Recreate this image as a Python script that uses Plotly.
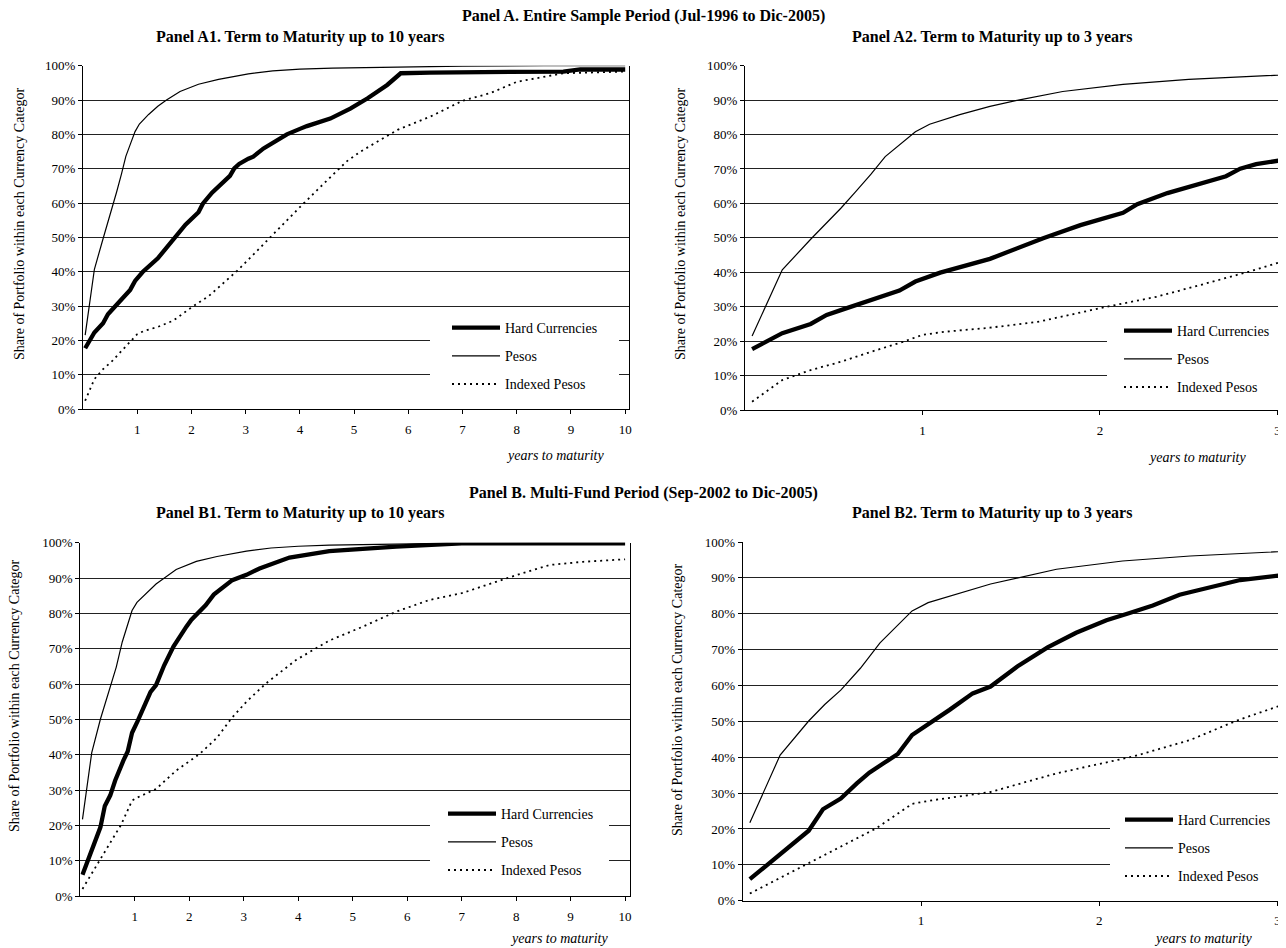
import plotly.graph_objects as go

# The page body has an 8px default margin, so the figure is sized to fit the window.
OFF = 8
W, H = 1286 - OFF, 948 - OFF
FONT = "Liberation Serif, Times New Roman, serif"

# ---------------- data (years to maturity, cumulative share %) ----------------
# Panel A: Entire sample period
A_hc_x = [0.04, 0.21, 0.37, 0.46, 0.54, 0.71, 0.87, 0.96, 1.1, 1.38, 1.68, 1.89, 2.13, 2.21,
          2.38, 2.71, 2.79, 2.88, 3.05, 3.14, 3.33, 3.57, 3.76, 4.0, 4.13, 4.56, 4.93, 5.25,
          5.61, 5.86, 6.4, 8.86, 9.17, 10.0]
A_hc_y = [17.7, 22.3, 25.0, 27.6, 29.0, 32.1, 34.7, 37.3, 39.9, 43.9, 49.9, 53.7, 57.3, 59.8,
          63.0, 67.9, 70.1, 71.4, 72.9, 73.5, 75.9, 78.3, 80.0, 81.6, 82.4, 84.6, 87.5, 90.5,
          94.4, 97.8, 98.0, 98.3, 98.9, 98.9]

A_pes_x = [0.04, 0.21, 0.37, 0.46, 0.54, 0.62, 0.71, 0.79, 0.87, 0.96, 1.04, 1.21, 1.38, 1.54,
           1.79, 2.13, 2.5, 3.05, 3.5, 4.0, 4.6, 5.5, 7.0, 8.5, 10.0]
A_pes_y = [21.5, 40.7, 49.6, 54.4, 58.6, 63.2, 68.5, 73.6, 77.0, 80.8, 83.0, 85.8, 88.2, 90.0,
           92.5, 94.6, 96.0, 97.6, 98.5, 99.0, 99.3, 99.6, 99.9, 100.0, 100.0]

A_idx_x = [0.04, 0.21, 0.37, 0.54, 0.71, 0.89, 1.0, 1.12, 1.38, 1.66, 2.02, 2.32, 2.6, 2.84,
           3.05, 3.5, 4.0, 4.56, 4.87, 5.12, 5.8, 6.41, 7.0, 7.51, 8.0, 8.86, 10.0]
A_idx_y = [2.4, 8.7, 11.6, 14.0, 16.9, 19.8, 21.8, 22.7, 23.9, 25.7, 29.8, 32.9, 36.8, 40.2,
           43.5, 50.8, 58.8, 67.5, 72.2, 75.0, 81.3, 85.2, 89.8, 92.0, 95.3, 97.8, 98.3]

# Panel B: Multi-fund period
B_hc_x = [0.04, 0.37, 0.45, 0.55, 0.64, 0.71, 0.79, 0.87, 0.95, 1.05, 1.16, 1.29, 1.39, 1.54,
          1.71, 1.87, 1.95, 2.04, 2.17, 2.3, 2.45, 2.62, 2.79, 3.05, 3.29, 3.84, 4.57, 5.8,
          7.0, 10.0]
B_hc_y = [6.0, 19.5, 25.5, 28.5, 32.7, 35.7, 38.3, 40.9, 46.2, 49.4, 53.2, 57.8, 59.7, 65.3,
          70.6, 74.7, 76.3, 78.2, 80.2, 82.3, 85.3, 87.4, 89.4, 90.9, 92.7, 95.8, 97.6, 98.9,
          99.8, 99.8]

B_pes_x = [0.04, 0.21, 0.37, 0.46, 0.55, 0.66, 0.77, 0.86, 0.95, 1.04, 1.39, 1.76, 2.13, 2.51,
           3.05, 3.5, 4.0, 4.57, 5.5, 7.0, 8.5, 10.0]
B_pes_y = [21.7, 40.6, 50.1, 54.7, 58.7, 64.8, 71.9, 76.4, 80.8, 83.1, 88.3, 92.4, 94.7, 96.1,
           97.6, 98.5, 99.0, 99.3, 99.6, 99.9, 100.0, 100.0]

B_idx_x = [0.04, 0.37, 0.55, 0.75, 0.95, 1.05, 1.39, 1.76, 2.19, 2.51, 2.77, 3.05, 3.41, 3.96,
           4.57, 5.18, 5.8, 6.41, 7.0, 7.63, 8.0, 8.62, 9.23, 10.0]
B_idx_y = [2.0, 10.4, 15.2, 20.2, 27.0, 27.9, 30.3, 35.5, 40.2, 44.8, 50.2, 55.0, 60.2, 66.8,
           72.3, 76.2, 80.5, 83.8, 85.7, 89.0, 90.8, 93.7, 94.6, 95.3]

SERIES_NAMES = ["Hard Currencies", "Pesos", "Indexed Pesos"]
Y_TICKS = [0, 10, 20, 30, 40, 50, 60, 70, 80, 90, 100]
Y_TICK_TEXT = ["0%", "10%", "20%", "30%", "40%", "50%", "60%", "70%", "80%", "90%", "100%"]
X_TICKS_10 = [1, 2, 3, 4, 5, 6, 7, 8, 9, 10]
X_TICKS_3 = [1, 2, 3]

TITLE_A = "Panel A. Entire Sample Period (Jul-1996 to Dic-2005)"
TITLE_B = "Panel B. Multi-Fund Period (Sep-2002 to Dic-2005)"
TITLE_A1 = "Panel A1. Term to Maturity up to 10 years"
TITLE_A2 = "Panel A2. Term to Maturity up to 3 years"
TITLE_B1 = "Panel B1. Term to Maturity up to 10 years"
TITLE_B2 = "Panel B2. Term to Maturity up to 3 years"
Y_TITLE = "Share of Portfolio within each Currency Categor"
X_TITLE = "years to maturity"


# ---------------- layout geometry (window pixels -> paper) ----------------
def px_x(p):
    return (p - OFF) / W


def px_y(p):
    return 1 - (p - OFF) / H


panels = [
    dict(ax="", xd=(83, 629), yd=(65.7, 409), xr=10.07, ticks=X_TICKS_10, leg="legend",
         data=(A_hc_x, A_hc_y, A_pes_x, A_pes_y, A_idx_x, A_idx_y),
         box=(430, 619, 313, 397), legpos=(447, 312),
         title=TITLE_A1, tpos=(300, 37), ytpos=(19, 224), xtpos=(555, 455)),
    dict(ax="2", xd=(745, 1286), yd=(65.7, 410), xr=3.048, ticks=X_TICKS_3, leg="legend2",
         data=(A_hc_x, A_hc_y, A_pes_x, A_pes_y, A_idx_x, A_idx_y),
         box=(1107, 1284, 315, 398), legpos=(1119, 315),
         title=TITLE_A2, tpos=(992, 37), ytpos=(680, 224), xtpos=(1197, 457)),
    dict(ax="3", xd=(80.3, 630), yd=(542.7, 896), xr=10.09, ticks=X_TICKS_10, leg="legend3",
         data=(B_hc_x, B_hc_y, B_pes_x, B_pes_y, B_idx_x, B_idx_y),
         box=(430, 609, 798, 882), legpos=(443, 798),
         title=TITLE_B1, tpos=(300, 513), ytpos=(14, 696), xtpos=(559, 938)),
    dict(ax="4", xd=(742.7, 1286), yd=(542, 900.7), xr=3.047, ticks=X_TICKS_3, leg="legend4",
         data=(B_hc_x, B_hc_y, B_pes_x, B_pes_y, B_idx_x, B_idx_y),
         box=(1110, 1283, 804, 887), legpos=(1120, 804),
         title=TITLE_B2, tpos=(992, 513), ytpos=(677, 700), xtpos=(1203, 938)),
]

fig = go.Figure()
layout = dict(
    width=W, height=H, margin=dict(l=0, r=0, t=0, b=0, autoexpand=False),
    paper_bgcolor="white", plot_bgcolor="white", showlegend=True,
    font=dict(family=FONT, color="black", size=13),
)
annotations = [
    dict(text="<b>%s</b>" % TITLE_A, x=px_x(643), y=px_y(16)),
    dict(text="<b>%s</b>" % TITLE_B, x=px_x(643), y=px_y(493)),
]
for a in annotations:
    a.update(xref="paper", yref="paper", showarrow=False, xanchor="center",
             yanchor="middle", font=dict(family=FONT, size=16, color="black"))
shapes = []

styles = [
    dict(color="black", width=4.3),
    dict(color="black", width=1.2),
    dict(color="black", width=1.8, dash="2px,4px"),
]

for p in panels:
    ax = p["ax"]
    xa, ya = "x" + ax, "y" + ax
    hx, hy, px_, py_, ix, iy = p["data"]
    for k, (xs, ys) in enumerate([(hx, hy), (px_, py_), (ix, iy)]):
        fig.add_trace(go.Scatter(
            x=xs, y=ys, mode="lines", name=SERIES_NAMES[k], line=styles[k],
            xaxis=xa, yaxis=ya, legend=p["leg"], legendgroup=p["leg"] + str(k),
            hoverinfo="skip"))
    layout["xaxis" + ax] = dict(
        domain=[px_x(p["xd"][0]), px_x(p["xd"][1])], range=[0, p["xr"]],
        anchor=ya, tickmode="array", tickvals=p["ticks"], ticks="outside", ticklen=4,
        tickcolor="black", showline=True, linecolor="black", linewidth=1, showgrid=False,
        zeroline=False, tickfont=dict(family=FONT, size=13, color="black"),
        ticklabelstandoff=4, fixedrange=True)
    layout["yaxis" + ax] = dict(
        domain=[px_y(p["yd"][1]), px_y(p["yd"][0])], range=[0, 100], anchor=xa,
        tickmode="array", tickvals=Y_TICKS, ticktext=Y_TICK_TEXT, ticks="outside",
        ticklen=4, tickcolor="black", showline=True, linecolor="black", linewidth=1,
        mirror=True, showgrid=True, gridcolor="#222222", gridwidth=1, zeroline=False,
        tickfont=dict(family=FONT, size=13, color="black"), fixedrange=True)
    layout[p["leg"]] = dict(
        x=px_x(p["legpos"][0]), y=px_y(p["legpos"][1]), xanchor="left", yanchor="top",
        bgcolor="rgba(0,0,0,0)", borderwidth=0, traceorder="grouped", tracegroupgap=7,
        itemwidth=48, font=dict(family=FONT, size=14, color="black"))
    # white box behind the legend (hides gridlines, as in the original)
    x0, x1, y0, y1 = p["box"]
    shapes.append(dict(
        type="rect", xref="paper", yref="paper", layer="above",
        x0=px_x(x0), x1=px_x(x1), y0=px_y(y1), y1=px_y(y0),
        fillcolor="white", line=dict(width=0)))
    annotations.append(dict(
        text="<b>%s</b>" % p["title"], x=px_x(p["tpos"][0]), y=px_y(p["tpos"][1]),
        xref="paper", yref="paper", showarrow=False, xanchor="center", yanchor="middle",
        font=dict(family=FONT, size=16, color="black")))
    annotations.append(dict(
        text=Y_TITLE, x=px_x(p["ytpos"][0]), y=px_y(p["ytpos"][1]), textangle=-90,
        xref="paper", yref="paper", showarrow=False, xanchor="center", yanchor="middle",
        font=dict(family=FONT, size=14, color="black")))
    annotations.append(dict(
        text="<i>%s</i>" % X_TITLE, x=px_x(p["xtpos"][0]), y=px_y(p["xtpos"][1]),
        xref="paper", yref="paper", showarrow=False, xanchor="center", yanchor="middle",
        font=dict(family=FONT, size=14, color="black")))

layout["annotations"] = annotations
layout["shapes"] = shapes
fig.update_layout(**layout)
fig.write_html("out.html", config={"displayModeBar": False})
